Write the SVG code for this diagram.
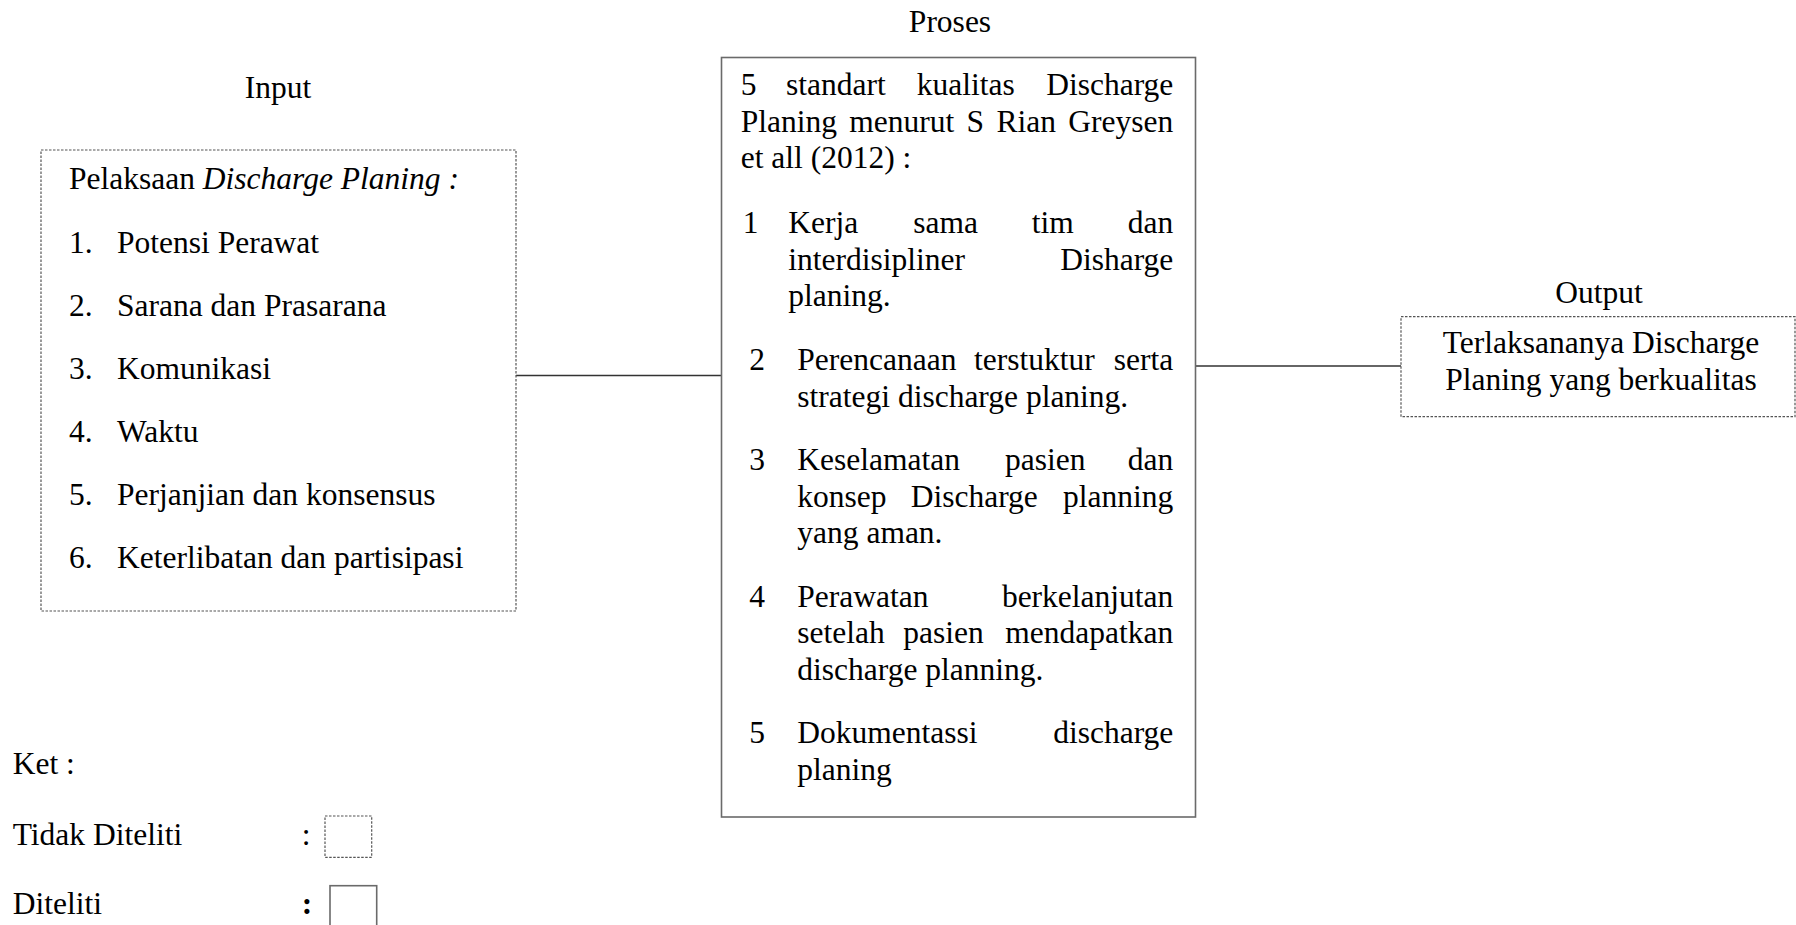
<svg xmlns="http://www.w3.org/2000/svg" width="1796" height="925" viewBox="0 0 1796 925">
<style>
text{font-family:"Liberation Serif","Times New Roman",serif;font-size:31.5px;fill:#000}
.dot{fill:none;stroke:#555;stroke-width:1.2;stroke-dasharray:2.5 1.5}
.solid{fill:none;stroke:#6a6a6a;stroke-width:1.6}
.conn{stroke:#333;stroke-width:1.4;fill:none}
.m{text-anchor:middle}
</style>
<rect width="1796" height="925" fill="#fff"/>
<g id="connectors">
<line class="conn" x1="516" y1="375.5" x2="721.5" y2="375.5"/>
<line class="conn" x1="1195.5" y1="366" x2="1401" y2="366"/>
</g>
<g id="input">
<text class="m" x="278" y="98">Input</text>
<rect class="dot" x="41" y="150" width="475" height="461"/>
<text x="69" y="189">Pelaksaan <tspan font-style="italic">Discharge Planing :</tspan></text>
<text x="69" y="253">1.</text><text x="117" y="253">Potensi Perawat</text>
<text x="69" y="316">2.</text><text x="117" y="316">Sarana dan Prasarana</text>
<text x="69" y="379">3.</text><text x="117" y="379">Komunikasi</text>
<text x="69" y="442">4.</text><text x="117" y="442">Waktu</text>
<text x="69" y="505">5.</text><text x="117" y="505">Perjanjian dan konsensus</text>
<text x="69" y="568">6.</text><text x="117" y="568">Keterlibatan dan partisipasi</text>
</g>
<g id="proses">
<text class="m" x="950" y="32">Proses</text>
<rect class="solid" x="721.5" y="57.5" width="474" height="759.5"/>
<text y="95"><tspan x="740.7">5</tspan><tspan x="786">standart</tspan><tspan x="916.7">kualitas</tspan><tspan x="1173.3" text-anchor="end">Discharge</tspan></text>
<text y="132"><tspan x="740.7">Planing</tspan><tspan x="849.3">menurut</tspan><tspan x="966.6">S</tspan><tspan x="996.4">Rian</tspan><tspan x="1173.3" text-anchor="end">Greysen</tspan></text>
<text x="740.7" y="168">et all (2012) :</text>
<text x="742.7" y="233">1</text>
<text y="233"><tspan x="788.3">Kerja</tspan><tspan x="913.3">sama</tspan><tspan x="1031.7">tim</tspan><tspan x="1173.3" text-anchor="end">dan</tspan></text>
<text y="269.5"><tspan x="788.3">interdisipliner</tspan><tspan x="1173.3" text-anchor="end">Disharge</tspan></text>
<text x="788.3" y="305.5">planing.</text>
<text x="749.3" y="370">2</text>
<text y="370"><tspan x="797.3">Perencanaan</tspan><tspan x="974">terstuktur</tspan><tspan x="1173.3" text-anchor="end">serta</tspan></text>
<text x="797.3" y="406.7">strategi discharge planing.</text>
<text x="749.3" y="470">3</text>
<text y="470"><tspan x="797.3">Keselamatan</tspan><tspan x="1005">pasien</tspan><tspan x="1173.3" text-anchor="end">dan</tspan></text>
<text y="506.7"><tspan x="797.3">konsep</tspan><tspan x="910.7">Discharge</tspan><tspan x="1173.3" text-anchor="end">planning</tspan></text>
<text x="797.3" y="543.3">yang aman.</text>
<text x="749.3" y="606.7">4</text>
<text y="606.7"><tspan x="797.3">Perawatan</tspan><tspan x="1173.3" text-anchor="end">berkelanjutan</tspan></text>
<text y="643.3"><tspan x="797.3">setelah</tspan><tspan x="903.3">pasien</tspan><tspan x="1173.3" text-anchor="end">mendapatkan</tspan></text>
<text x="797.3" y="680">discharge planning.</text>
<text x="749.3" y="743.3">5</text>
<text y="743.3"><tspan x="797.3">Dokumentassi</tspan><tspan x="1173.3" text-anchor="end">discharge</tspan></text>
<text x="797.3" y="780">planing</text>
</g>
<g id="output">
<text class="m" x="1599" y="303">Output</text>
<rect class="dot" x="1401" y="316.7" width="394" height="100"/>
<text class="m" x="1601" y="353">Terlaksananya Discharge</text>
<text class="m" x="1601" y="390">Planing yang berkualitas</text>
</g>
<g id="legend">
<text x="12.7" y="773.5">Ket :</text>
<text x="12.7" y="845">Tidak Diteliti</text>
<text x="301.7" y="845">:</text>
<rect class="dot" x="325" y="816" width="46.7" height="41.3"/>
<text x="12.7" y="914.3">Diteliti</text>
<text x="301.7" y="914.3" font-weight="bold">:</text>
<rect class="solid" x="330" y="885.7" width="46.7" height="60"/>
</g>
</svg>
